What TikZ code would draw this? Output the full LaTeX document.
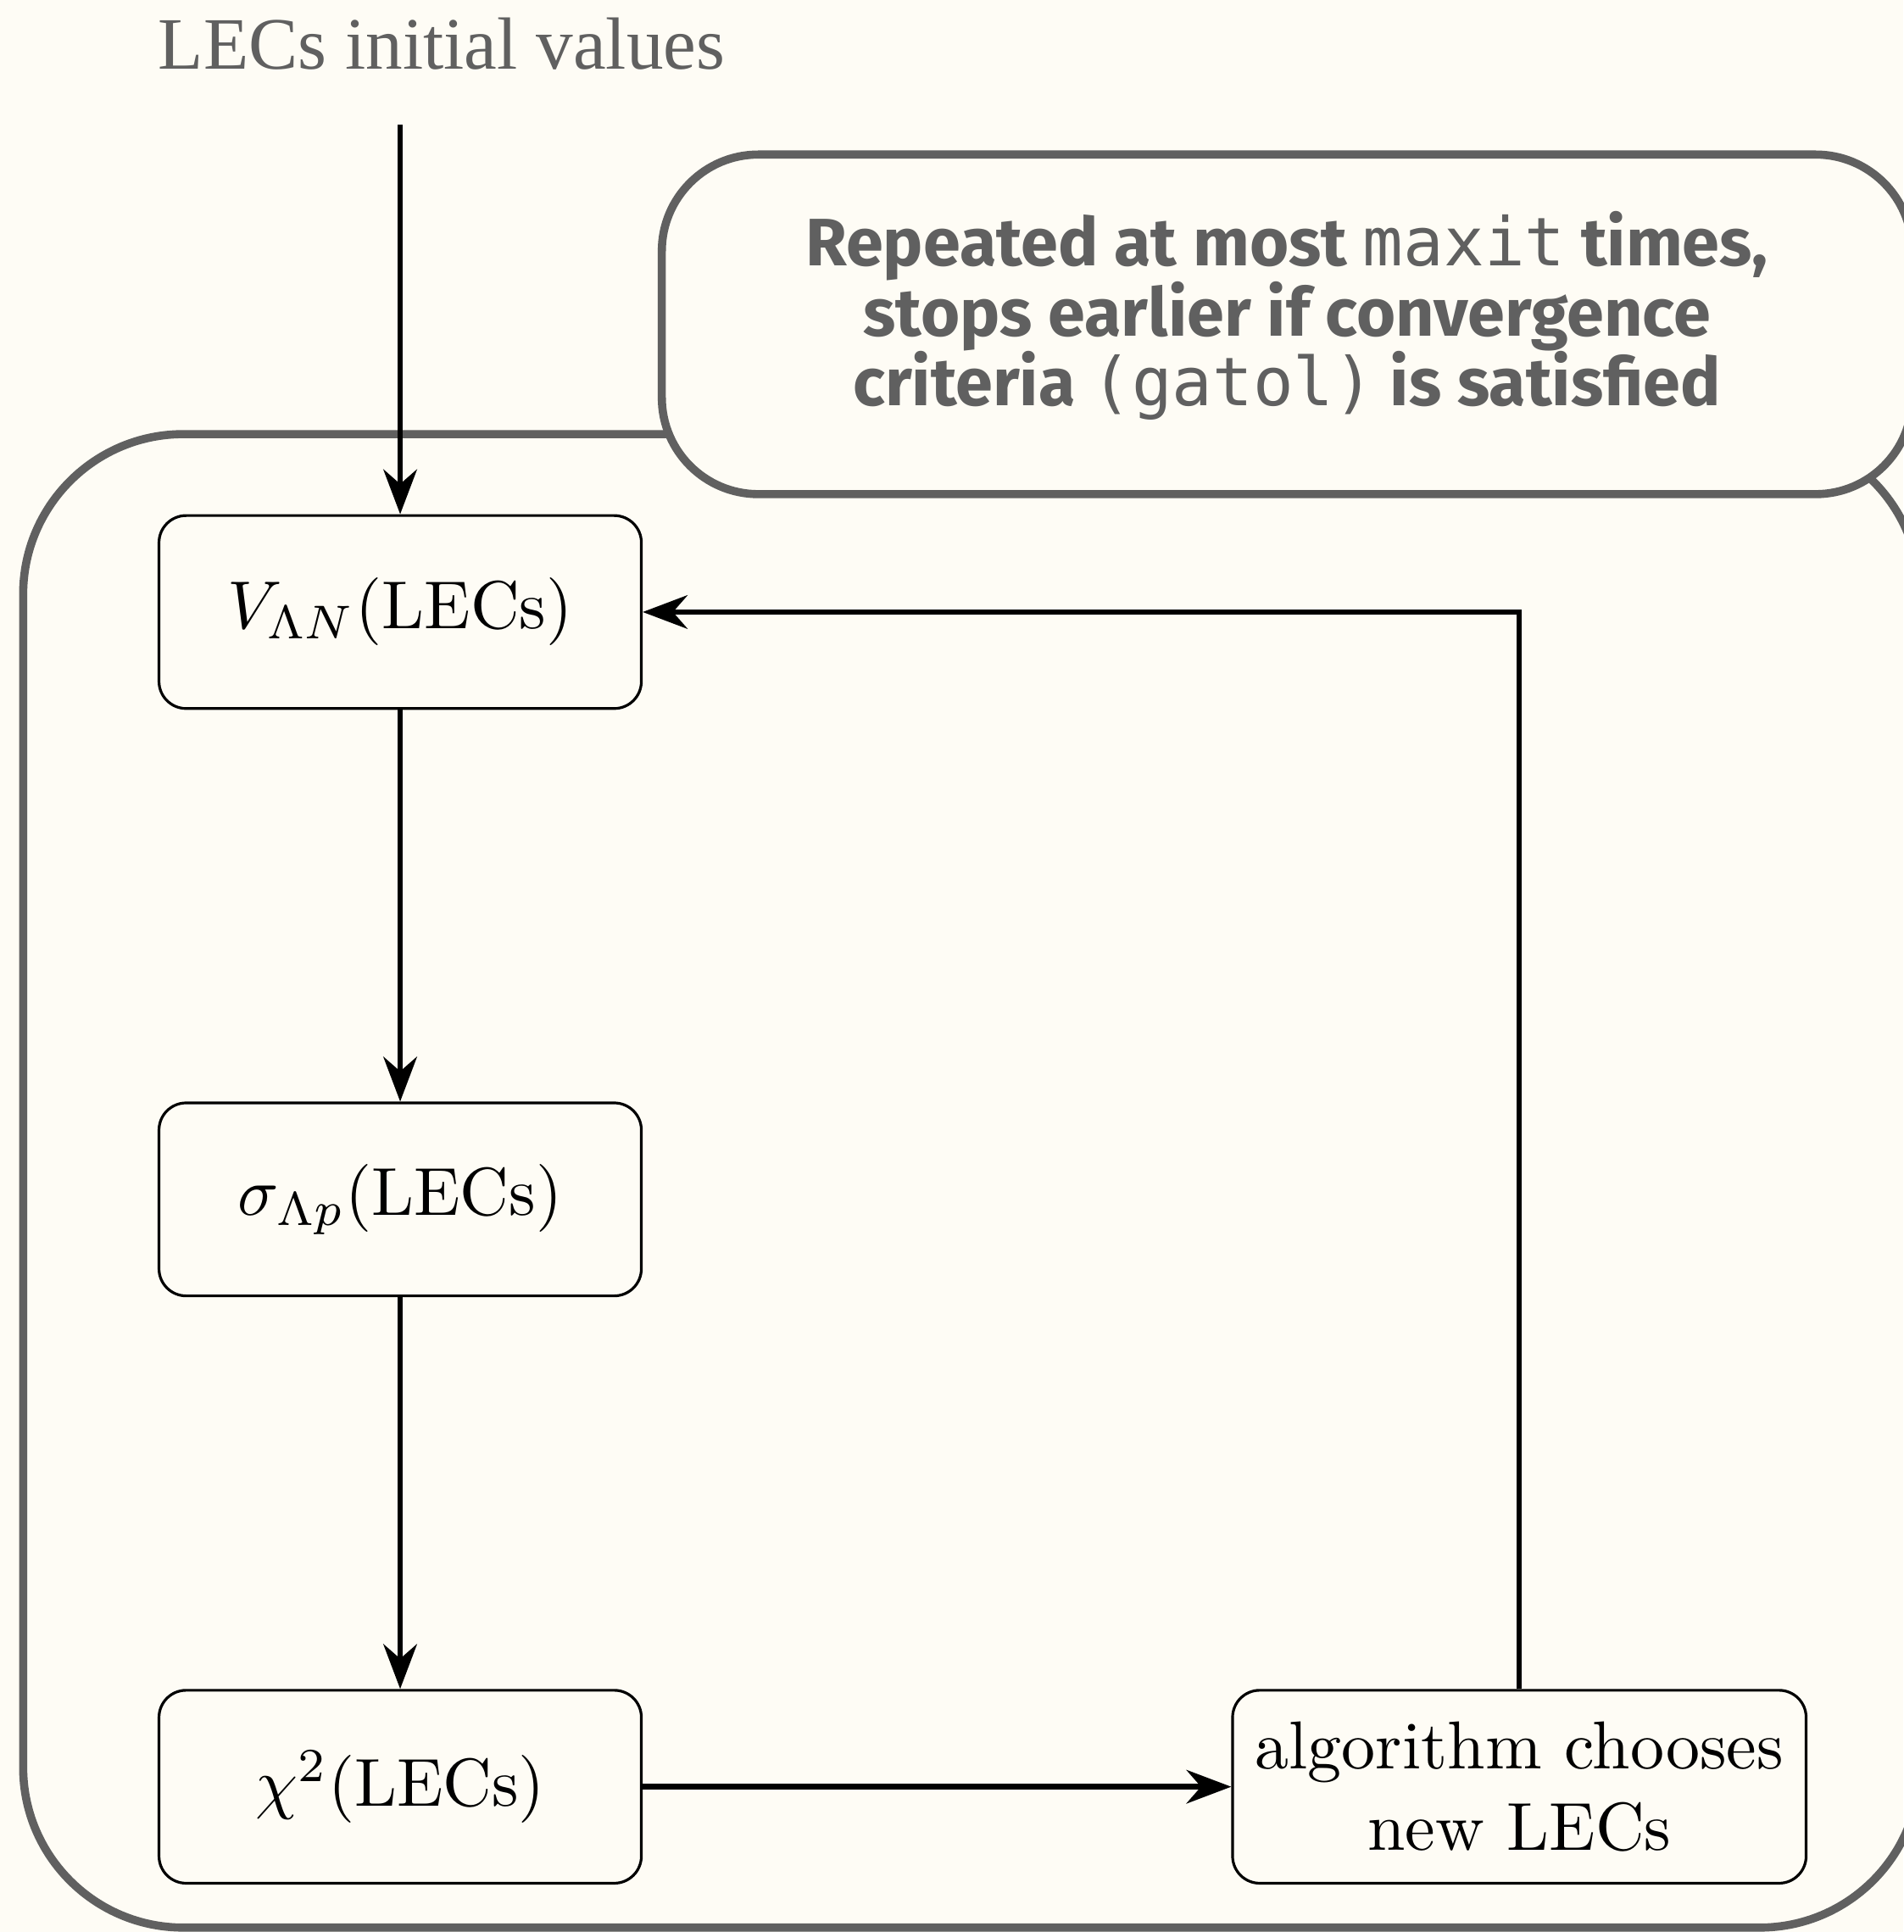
\documentclass[tikz,border=0pt]{standalone}
\usepackage{amsmath}
\usepackage{fontspec}
\newfontfamily\titlefont{Liberation Serif}
\newfontfamily\notefont{Fira Sans}
\newfontfamily\codefont{DejaVu Sans Mono}
\usetikzlibrary{arrows.meta}
\usetikzlibrary{positioning}
\definecolor{paper}{HTML}{FEFCF5}
\definecolor{framegray}{HTML}{606060}
\newcommand{\code}[1]{{\codefont\mdseries #1}}

\begin{document}
\begin{tikzpicture}[-Stealth, thick,
            node distance = 2.03cm,
            box/.style = {draw,thin,rounded corners,fill=paper,
                minimum width=2.5cm,minimum height=1cm,align=center},
            loopframe/.style = {-,draw=framegray,line width=1.2pt,
                rounded corners=0.83cm},
            note/.style = {draw=framegray,line width=1.2pt,fill=paper,
                rounded corners=0.5cm,minimum width=6.48cm,
                minimum height=1.76cm,align=center,text=framegray,
                text depth=4.6pt,
                font=\notefont\bfseries\fontsize{9.9}{10.3}\selectfont}]
            \fill[paper] (0,0) rectangle (9.864,-10.013);
            \useasboundingbox (0,0) rectangle (9.864,-10.013);
            \draw[loopframe] (0.12,-2.25) rectangle (9.95,-9.99);
            \node[note] (repeat) at (6.67,-1.681) {Repeated at most \code{maxit} times,\\
                stops earlier if convergence\\
                criteria \code{(gatol)} is satisfied};
            \node[text=framegray,font=\titlefont\fontsize{10.9}{13}\selectfont,
                anchor=base] (init) at (2.289,-0.356) {LECs initial values};
            \coordinate (start) at (2.074,-0.646);
            \node[box] (pot) at (2.074,-3.172) {$V_{\Lambda N}(\text{LECs})$};
            \node[box,below=of pot] (xsec) {$\sigma_{\Lambda p}(\text{LECs})$};
            \node[box,below=of xsec] (chi) {$\chi^2(\text{LECs})$};
            \node[box,right=3.05cm of chi] (algo) {algorithm chooses\\ new LECs};
            \path
                (start) edge (pot)
                (pot) edge (xsec)
                (xsec) edge (chi)
                (chi) edge (algo);
            \draw (algo) |- (pot);
\end{tikzpicture}
\end{document}
